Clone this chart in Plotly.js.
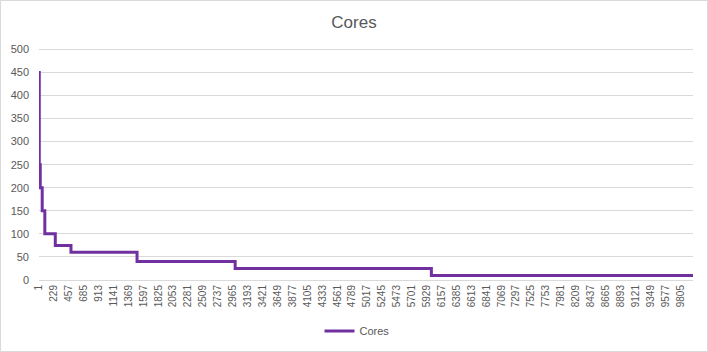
<!DOCTYPE html>
<html>
<head>
<meta charset="utf-8">
<script src="https://cdn.plot.ly/plotly-3.0.1.min.js"></script>
<style>html,body{margin:0;padding:0;background:#fff;}#chart{width:708px;height:352px;}</style>
</head>
<body>
<div id="chart"></div>
<script>
// Step breakpoints (category index where each value starts) and values
var stepStart = [1, 5, 20, 50, 90, 250, 490, 1500, 3000, 6000, 10000];
var coresValues = [450, 250, 200, 150, 100, 75, 60, 40, 25, 10, 10];
var tickLabels = [1, 229, 457, 685, 913, 1141, 1369, 1597, 1825, 2053, 2281, 2509, 2737, 2965,
  3193, 3421, 3649, 3877, 4105, 4333, 4561, 4789, 5017, 5245, 5473, 5701, 5929, 6157, 6385,
  6613, 6841, 7069, 7297, 7525, 7753, 7981, 8209, 8437, 8665, 8893, 9121, 9349, 9577, 9805];
var yTicks = [0, 50, 100, 150, 200, 250, 300, 350, 400, 450, 500];

var W = 708, H = 352, L = 39, R = 15, T = 47, B = 72;
var pw = W - L - R, ph = H - T - B;

var trace = {
  x: stepStart, y: coresValues, type: 'scatter', mode: 'lines', name: 'Cores',
  line: {color: '#7030A0', width: 3, shape: 'hv'}
};

var layout = {
  width: W, height: H,
  margin: {l: L, r: R, t: T, b: B, pad: 0, autoexpand: false},
  paper_bgcolor: '#ffffff', plot_bgcolor: '#ffffff',
  font: {family: 'Liberation Sans, Arial, sans-serif', color: '#595959', size: 11},
  title: {text: 'Cores', font: {size: 17, color: '#595959'}, x: 0.5, xanchor: 'center', y: 1 - 22 / H, yanchor: 'middle'},
  xaxis: {
    type: 'linear', range: [1, 10000], tickmode: 'array', automargin: false,
    tickvals: tickLabels, ticktext: tickLabels.map(String),
    tickangle: -90, tickfont: {size: 10, color: '#595959'},
    showgrid: false, zeroline: false, showline: true, linecolor: '#d9d9d9', linewidth: 1,
    ticks: '', fixedrange: true
  },
  yaxis: {
    range: [0, 505], tickmode: 'array', tickvals: yTicks, ticktext: yTicks.map(String), automargin: false,
    showgrid: true, gridcolor: '#d9d9d9', gridwidth: 1, zeroline: false, showline: false,
    tickfont: {size: 11, color: '#595959'}, ticks: '', ticklabelstandoff: 9, fixedrange: true
  },
  showlegend: true,
  legend: {orientation: 'h', x: 0.5 - 9 / pw, xanchor: 'center', yref: 'container', y: 1 - 331 / H, yanchor: 'middle',
    font: {size: 11, color: '#595959'}, bgcolor: 'rgba(0,0,0,0)'},
  shapes: [{
    type: 'rect', xref: 'paper', yref: 'paper',
    x0: (0.5 - L) / pw, x1: (W - 0.5 - L) / pw,
    y0: (T + ph - (H - 0.5)) / ph, y1: (T + ph - 0.5) / ph,
    line: {color: '#d9d9d9', width: 1}, fillcolor: 'rgba(0,0,0,0)', layer: 'below'
  }]
};

Plotly.newPlot('chart', [trace], layout, {displayModeBar: false, staticPlot: true});
</script>
</body>
</html>
